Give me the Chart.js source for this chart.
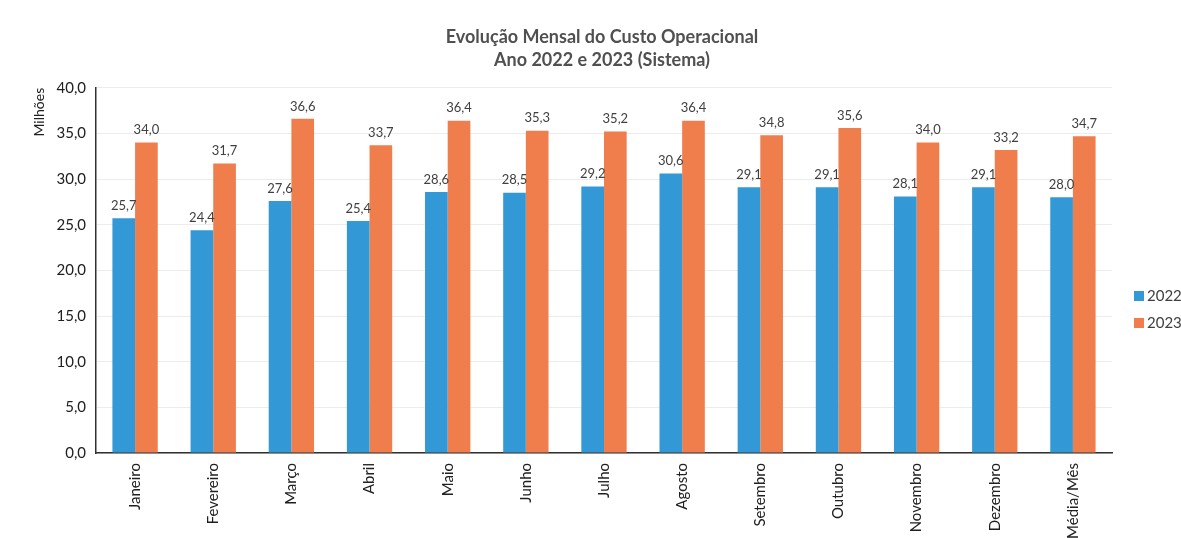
<!DOCTYPE html>
<html>
<head>
<meta charset="utf-8">
<script src="https://cdn.jsdelivr.net/npm/chart.js@4/dist/chart.umd.min.js"></script>
<style>
html,body{margin:0;padding:0;background:#fff;}
#wrap{width:1181px;height:538px;position:relative;}
</style>
</head>
<body>
<div id="wrap"><canvas id="c" width="1181" height="538"></canvas></div>
<script>
const categories = ["Janeiro","Fevereiro","Março","Abril","Maio","Junho","Julho","Agosto","Setembro","Outubro","Novembro","Dezembro","Média/Mês"];
const values2022 = [25.7,24.4,27.6,25.4,28.6,28.5,29.2,30.6,29.1,29.1,28.1,29.1,28.0];
const values2023 = [34.0,31.7,36.6,33.7,36.4,35.3,35.2,36.4,34.8,35.6,34.0,33.2,34.7];
const seriesNames = ["2022","2023"];
const seriesColors = ["#3399d6","#f07d4c"];
const titleLines = ["Evolução Mensal do Custo Operacional","Ano 2022 e 2023 (Sistema)"];
const yAxisTitle = "Milhões";

const FONT = 'Lato, "Open Sans", sans-serif';
const fmt = v => Number(v).toFixed(1).replace('.', ',');

const labelPlugin = {
  id: 'barLabels',
  afterDatasetsDraw(chart) {
    const ctx = chart.ctx;
    ctx.save();
    ctx.font = '13px ' + FONT;
    ctx.fillStyle = '#404040';
    ctx.textAlign = 'center';
    ctx.textBaseline = 'bottom';
    chart.data.datasets.forEach((ds, di) => {
      const meta = chart.getDatasetMeta(di);
      meta.data.forEach((bar, i) => {
        ctx.fillText(fmt(ds.data[i]), bar.x, bar.y - 6);
      });
    });
    ctx.restore();
  }
};

const legendPlugin = {
  id: 'sideLegend',
  afterDraw(chart) {
    const ctx = chart.ctx;
    ctx.save();
    ctx.font = '15px ' + FONT;
    ctx.textBaseline = 'middle';
    ctx.textAlign = 'left';
    chart.data.datasets.forEach((ds, i) => {
      const cy = 296 + i * 27;
      ctx.fillStyle = ds.backgroundColor;
      ctx.fillRect(1134, cy - 5, 10, 10);
      ctx.fillStyle = '#404040';
      ctx.fillText(ds.label, 1147, cy);
    });
    ctx.restore();
  }
};

const titlePlugin = {
  id: 'offsetTitle',
  afterDraw(chart) {
    const ctx = chart.ctx;
    ctx.save();
    ctx.font = 'bold 18px ' + FONT;
    ctx.fillStyle = '#505050';
    ctx.textAlign = 'center';
    ctx.textBaseline = 'middle';
    titleLines.forEach((t, i) => ctx.fillText(t, 602, 37 + i * 23));
    ctx.restore();
  }
};

new Chart(document.getElementById('c'), {
  type: 'bar',
  data: {
    labels: categories,
    datasets: [
      { label: seriesNames[0], data: values2022, backgroundColor: seriesColors[0], borderWidth: 0 },
      { label: seriesNames[1], data: values2023, backgroundColor: seriesColors[1], borderWidth: 0 }
    ]
  },
  options: {
    responsive: false,
    animation: false,
    devicePixelRatio: 1,
    categoryPercentage: 0.58,
    barPercentage: 1.0,
    layout: { padding: { left: 31, right: 69, top: 0, bottom: 0 } },
    plugins: {
      title: {
        display: true,
        text: titleLines,
        color: 'rgba(0,0,0,0)',
        font: { family: FONT, size: 18, weight: 'bold', lineHeight: 1.3 },
        padding: { top: 25, bottom: 16 }
      },
      legend: { display: false },
      tooltip: { enabled: false }
    },
    scales: {
      x: {
        grid: { display: false, drawTicks: false },
        border: { color: '#303030', width: 1.5 },
        ticks: {
          minRotation: 90, maxRotation: 90, padding: 10,
          color: '#202020',
          font: { family: FONT, size: 15 }
        },
        afterFit(s) { s.height = 85; }
      },
      y: {
        min: 0, max: 40,
        ticks: {
          stepSize: 5, padding: 10,
          color: '#202020',
          font: { family: FONT, size: 15 },
          callback: v => fmt(v)
        },
        grid: { color: '#ececec', drawTicks: false },
        border: { color: '#303030', width: 1.5 },
        title: {
          display: true, text: yAxisTitle, align: 'end',
          color: '#202020',
          font: { family: FONT, size: 14 },
          padding: { top: 0, bottom: 0 }
        },
        afterFit(s) { s.width = 65; }
      }
    }
  },
  plugins: [labelPlugin, legendPlugin, titlePlugin]
});
</script>
</body>
</html>
